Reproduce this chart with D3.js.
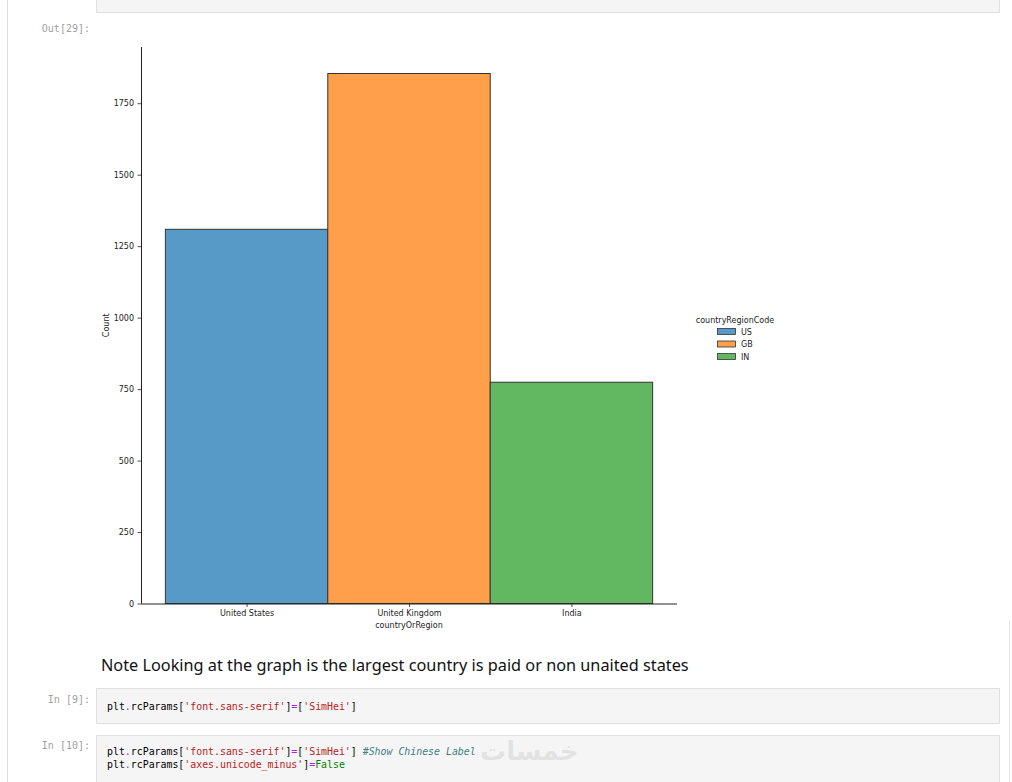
<!DOCTYPE html>
<html>
<head>
<meta charset="utf-8">
<script src="https://cdn.jsdelivr.net/npm/d3@7"></script>
<style>
  html, body { margin: 0; padding: 0; background: #fff; }
  svg { display: block; }
</style>
</head>
<body>
<svg id="page" width="1012" height="782"></svg>
<script>
// ---- data ----
const categories = ["United States", "United Kingdom", "India"];
const codes = ["US", "GB", "IN"];
const counts = [1309, 1854, 774];
const yTicks = [0, 250, 500, 750, 1000, 1250, 1500, 1750];
const colors = ["#5799c7", "#ff9f4a", "#61b861"];
const legendTitle = "countryRegionCode";
const xLabel = "countryOrRegion";
const yLabel = "Count";
const noteText = "Note Looking at the graph is the largest country is paid or non unaited states";

(function () {
const svg = d3.select("#page");

// ---- notebook chrome ----
svg.append("line").attr("x1", 7.5).attr("x2", 7.5).attr("y1", 0).attr("y2", 782)
  .attr("stroke", "#dcdcdc").attr("stroke-width", 1);
svg.append("line").attr("x1", 1009.5).attr("x2", 1009.5).attr("y1", 620).attr("y2", 782)
  .attr("stroke", "#e6e6e6").attr("stroke-width", 1);

function codeBox(y0, y1) {
  svg.append("rect").attr("x", 96.5).attr("y", y0 + 0.5).attr("width", 903).attr("height", y1 - y0)
    .attr("fill", "#f5f5f5").attr("stroke", "#e0e0e0");
}
codeBox(-10, 12);
codeBox(688, 723);
codeBox(735, 800);

const mono = "'DejaVu Sans Mono', 'Liberation Mono', monospace";
svg.append("text").attr("x", 90).attr("y", 32).attr("text-anchor", "end")
  .attr("font-family", mono).attr("font-size", 10).attr("fill", "#a0a0a0").text("Out[29]:");
svg.append("text").attr("x", 90).attr("y", 703).attr("text-anchor", "end")
  .attr("font-family", mono).attr("font-size", 10).attr("fill", "#a0a0a0").text("In [9]:");
svg.append("text").attr("x", 90).attr("y", 749).attr("text-anchor", "end")
  .attr("font-family", mono).attr("font-size", 10).attr("fill", "#a0a0a0").text("In [10]:");

// note (markdown)
const note = svg.append("text").attr("x", 101).attr("y", 671)
  .attr("font-family", "'Noto Sans', 'Open Sans', sans-serif").attr("font-size", 17)
  .attr("fill", "#111").text(noteText);
const nw = note.node().getComputedTextLength();
note.attr("font-size", 17 * 588 / nw);

// code lines
function codeLine(yPos, parts) {
  const t = svg.append("text").attr("x", 107).attr("y", yPos)
    .attr("font-family", mono).attr("font-size", 9.9).attr("xml:space", "preserve");
  parts.forEach(([s, c, st]) => {
    const ts = t.append("tspan").attr("fill", c).text(s);
    if (st === "i") ts.attr("font-style", "italic");
  });
}
const K = "#000", P = "#aa22ff", R = "#ba2121", G = "#008000", C = "#408080";
const rcLine = [["plt", K], [".", P], ["rcParams[", K], ["'font.sans-serif'", R], ["]", K], ["=", P], ["[", K], ["'SimHei'", R], ["]", K]];
codeLine(710, rcLine);
codeLine(755, rcLine.concat([[" #Show Chinese Label", C, "i"]]));
codeLine(768, [["plt", K], [".", P], ["rcParams[", K], ["'axes.unicode_minus'", R], ["]", K], ["=", P], ["False", G]]);

// watermark
svg.append("text").attr("x", 480).attr("y", 760).attr("text-anchor", "start")
  .attr("font-family", "'DejaVu Sans', sans-serif").attr("font-size", 26).attr("font-weight", "bold")
  .attr("fill", "#000").attr("opacity", 0.07).text("خمسات");

// ---- chart ----
const pl = 141, pr = 677, pt = 47, pb = 603.5;
const font = "'DejaVu Sans', sans-serif";
const x = d3.scaleLinear().domain([-0.65, categories.length - 1 + 0.65]).range([pl, pr]);
const y = d3.scaleLinear().domain([0, d3.max(counts) * 1.05]).range([pb, pt]);

const g = svg.append("g");
g.selectAll("rect.bar").data(counts).join("rect").attr("class", "bar")
  .attr("x", (d, i) => x(i - 0.5)).attr("width", (d, i) => x(i + 0.5) - x(i - 0.5))
  .attr("y", d => y(d)).attr("height", d => y(0) - y(d))
  .attr("fill", (d, i) => colors[i]).attr("stroke", "#333").attr("stroke-width", 1);

const yAxis = g.append("g").attr("transform", `translate(${pl},0)`)
  .call(d3.axisLeft(y).tickValues(yTicks).tickSize(3.5).tickPadding(3.5).tickFormat(d3.format("d")));
const xAxis = g.append("g").attr("transform", `translate(0,${pb})`)
  .call(d3.axisBottom(x).tickValues(categories.map((c, i) => i)).tickSize(3.5).tickPadding(3.5)
    .tickFormat(i => categories[i]));
[xAxis, yAxis].forEach(a => {
  a.select(".domain").attr("stroke", "#222").attr("stroke-width", 1);
  a.selectAll(".tick line").attr("stroke", "#222").attr("stroke-width", 0.8);
  a.selectAll(".tick text").attr("font-family", font).attr("font-size", 8).attr("fill", "#222");
});
yAxis.select(".domain").attr("d", `M0.5,${pb}V${pt}`);
xAxis.select(".domain").attr("d", `M${pl},0.5H${pr}`);

g.append("text").attr("x", (pl + pr) / 2).attr("y", 628).attr("text-anchor", "middle")
  .attr("font-family", font).attr("font-size", 8).attr("fill", "#222").text(xLabel);
g.append("text").attr("transform", `translate(109,${(pt + pb) / 2}) rotate(-90)`)
  .attr("text-anchor", "middle").attr("font-family", font).attr("font-size", 8).attr("fill", "#222").text(yLabel);

// legend
const lg = g.append("g");
lg.append("text").attr("x", 735).attr("y", 323).attr("text-anchor", "middle")
  .attr("font-family", font).attr("font-size", 8).attr("fill", "#222").text(legendTitle);
codes.forEach((c, i) => {
  const yy = 328 + i * 12.5;
  lg.append("rect").attr("x", 717.5).attr("y", yy + 0.5).attr("width", 18).attr("height", 6)
    .attr("fill", colors[i]).attr("stroke", "#333").attr("stroke-width", 0.8);
  lg.append("text").attr("x", 741).attr("y", yy + 6.5)
    .attr("font-family", font).attr("font-size", 8).attr("fill", "#222").text(c);
});
})();
</script>
</body>
</html>
